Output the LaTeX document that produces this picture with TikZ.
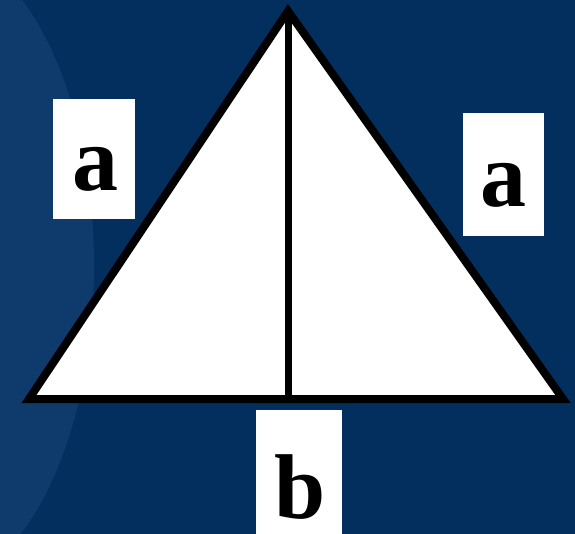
\documentclass[tikz,border=0pt]{standalone}
\usepackage{fontspec}
\setmainfont{Liberation Serif}
\definecolor{bgblue}{RGB}{3,47,95}
\definecolor{bglight}{RGB}{14,59,108}
\begin{document}
\begin{tikzpicture}[x=1pt,y=-1pt,
  labelbox/.style={fill=white,draw=none,inner sep=0pt},
  letter/.style={font=\bfseries\fontsize{92}{92}\selectfont,inner sep=0pt,anchor=base},
  edge/.style={line width=8pt,line join=miter}]
\useasboundingbox (0,0) rectangle (575,534);
\fill[bgblue] (0,0) rectangle (575,534);
\begin{scope}
\clip (0,0) rectangle (575,534);
\fill[bglight] (-68,266) ellipse [x radius=162, y radius=320];
\end{scope}
\coordinate (A) at (288,11);
\coordinate (L) at (29,399);
\coordinate (R) at (563,399);
\coordinate (M) at (288,399);
\filldraw[fill=white,draw=black,edge] (A) -- (L) -- (R) -- cycle;
\draw[line width=7pt] (A) -- (M);
\node[labelbox,minimum width=82pt,minimum height=120pt] (boxl) at (94,159) {};
\node[labelbox,minimum width=81pt,minimum height=123pt] (boxr) at (503.5,174.5) {};
\node[labelbox,minimum width=86pt,minimum height=124pt] (boxb) at (299,472) {};
\node[letter] (la) at (95,191) {a};
\node[letter] (ra) at (503,207) {a};
\node[letter] (lb) at (300,518) {b};
\end{tikzpicture}
\end{document}
